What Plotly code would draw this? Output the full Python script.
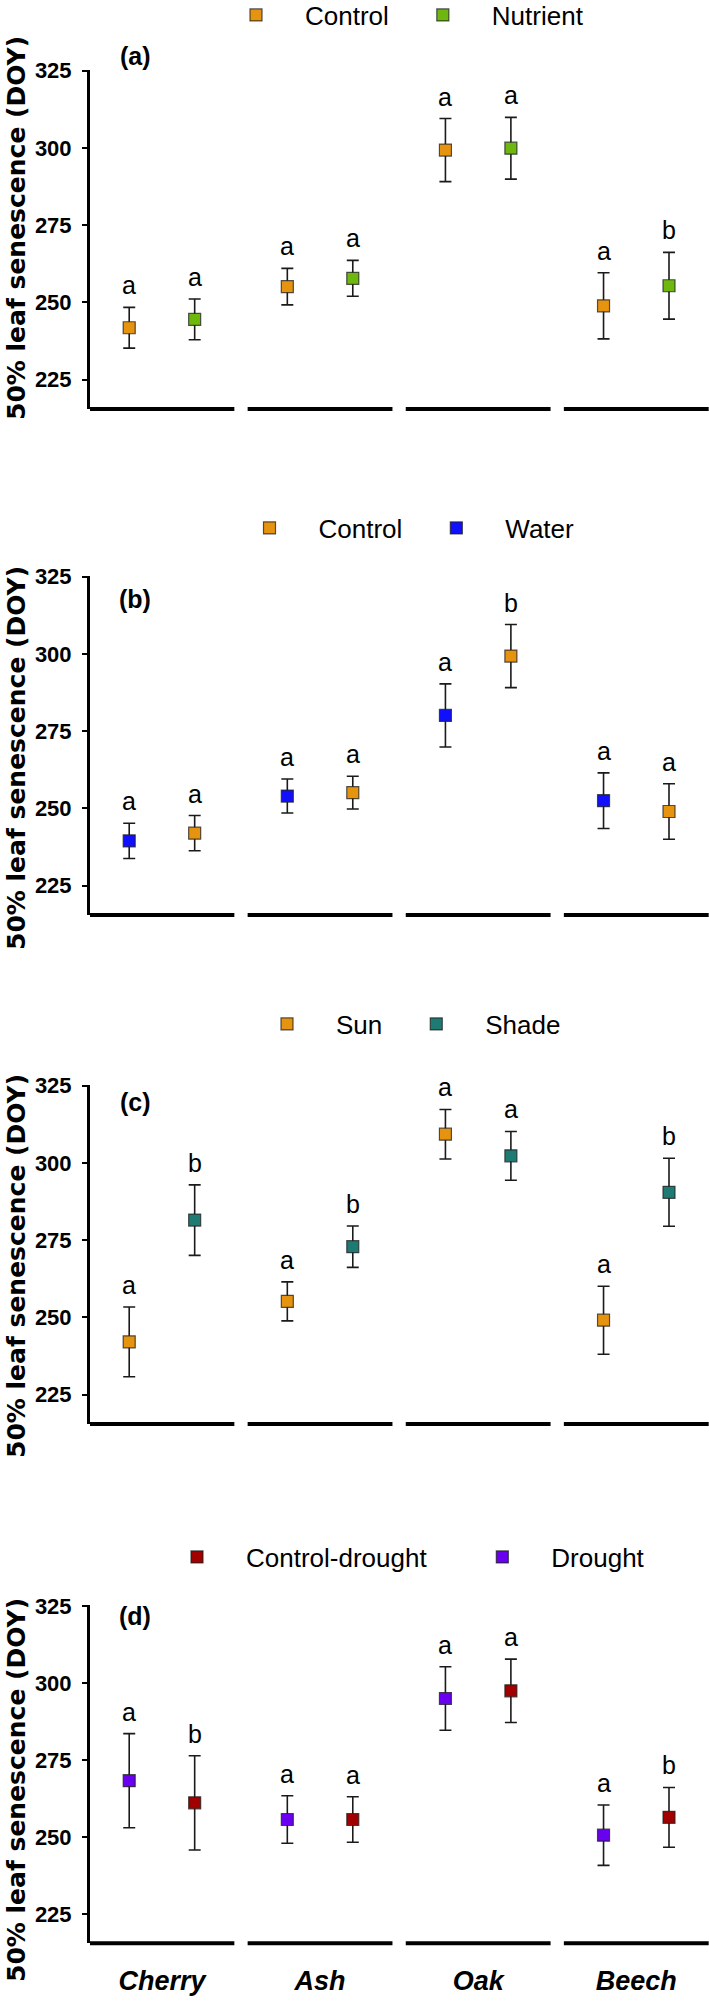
import plotly.graph_objects as go

# ---------------- data ----------------
species = ["Cherry", "Ash", "Oak", "Beech"]
y_ticks = [225, 250, 275, 300, 325]

# (a) Control vs Nutrient
a_control_mean = [241.8, 255.1, 299.3, 248.9]
a_control_err = [6.6, 5.9, 10.2, 10.7]
a_control_letters = ["a", "a", "a", "a"]
a_nutrient_mean = [244.5, 257.8, 299.9, 255.4]
a_nutrient_err = [6.6, 5.8, 10.0, 10.8]
a_nutrient_letters = ["a", "a", "a", "b"]

# (b) Control vs Water
b_water_mean = [239.5, 254.0, 280.1, 252.5]
b_water_err = [5.7, 5.5, 10.2, 9.0]
b_water_letters = ["a", "a", "a", "a"]
b_control_mean = [242.0, 255.1, 299.3, 249.0]
b_control_err = [5.7, 5.3, 10.2, 9.0]
b_control_letters = ["a", "a", "b", "a"]

# (c) Sun vs Shade
c_sun_mean = [242.1, 255.2, 309.3, 249.1]
c_sun_err = [11.3, 6.3, 8.0, 11.0]
c_sun_letters = ["a", "a", "a", "a"]
c_shade_mean = [281.5, 272.9, 302.3, 290.5]
c_shade_err = [11.4, 6.7, 7.9, 11.0]
c_shade_letters = ["b", "b", "a", "b"]

# (d) Control-drought vs Drought
d_drought_mean = [268.3, 255.7, 295.0, 250.6]
d_drought_err = [15.3, 7.7, 10.3, 9.8]
d_drought_letters = ["a", "a", "a", "a"]
d_cdrought_mean = [261.1, 255.7, 297.5, 256.4]
d_cdrought_err = [15.3, 7.4, 10.3, 9.7]
d_cdrought_letters = ["b", "a", "a", "b"]

panel_labels = ["(a)", "(b)", "(c)", "(d)"]
y_title = "50% leaf senescence (DOY)"

# ---------------- style / layout ----------------
ORANGE = "#E69310"
GREEN = "#6DB70F"
BLUE = "#1010FF"
TEAL = "#1E7B74"
DARKRED = "#A00000"
PURPLE = "#6A00F0"

FONT = "Liberation Sans, Arial, sans-serif"
W, H = 709, 2004
ML = 90
DODGE = 0.207
NB = "\u00a0"

panels = [
    dict(series=[("Control", a_control_mean, a_control_err, a_control_letters, ORANGE, -1, 1),
                 ("Nutrient", a_nutrient_mean, a_nutrient_err, a_nutrient_letters, GREEN, 1, 2)],
         domain=[0.7959, 0.9652], legend_y=15, legend_x=398, label_y=56, title_y=228),
    dict(series=[("Water", b_water_mean, b_water_err, b_water_letters, BLUE, -1, 2),
                 ("Control", b_control_mean, b_control_err, b_control_letters, ORANGE, 1, 1)],
         domain=[0.5434, 0.7127], legend_y=528, legend_x=400, label_y=599, title_y=758),
    dict(series=[("Sun", c_sun_mean, c_sun_err, c_sun_letters, ORANGE, -1, 1),
                 ("Shade", c_shade_mean, c_shade_err, c_shade_letters, TEAL, 1, 2)],
         domain=[0.2894, 0.4587], legend_y=1024, legend_x=402, label_y=1102, title_y=1266),
    dict(series=[("Drought", d_drought_mean, d_drought_err, d_drought_letters, PURPLE, -1, 2),
                 ("Control-drought", d_cdrought_mean, d_cdrought_err, d_cdrought_letters, DARKRED, 1, 1)],
         domain=[0.0303, 0.1990], legend_y=1557, legend_x=399, label_y=1616, title_y=1790),
]

fig = go.Figure()
annotations = []
shapes = []
layout_axes = {}

for k, p in enumerate(panels, start=1):
    sfx = "" if k == 1 else str(k)
    xname, yname = "x" + sfx, "y" + sfx
    legname = "legend" if k == 1 else "legend" + str(k)
    for name, mean, err, letters, color, side, rank in p["series"]:
        xs = [i + side * DODGE for i in range(len(species))]
        label = name + NB * 3 if (rank == 1 and len(name) > 10) else name
        fig.add_trace(go.Scatter(
            x=xs, y=mean, mode="markers", name=label,
            xaxis=xname, yaxis=yname, legend=legname, legendrank=rank,
            marker=dict(symbol="square", size=12, color=color,
                        line=dict(color="rgba(30,30,30,0.75)", width=1.2)),
            error_y=dict(type="data", array=err, visible=True,
                         color="#1a1a1a", thickness=1.6, width=6),
            showlegend=True,
        ))
        for xi, m, e, lt in zip(xs, mean, err, letters):
            annotations.append(dict(
                x=xi, y=m + e, xref=xname, yref=yname, text=lt, showarrow=False,
                yanchor="bottom", yshift=6,
                font=dict(family=FONT, size=25, color="black")))
    # broken x-axis segments, one per species
    for i in range(len(species)):
        shapes.append(dict(type="line", xref=xname, yref=yname + " domain",
                           x0=i - 0.458, x1=i + 0.458, y0=0, y1=0,
                           line=dict(color="black", width=4)))
    layout_axes["xaxis" + sfx] = dict(
        domain=[0, 1], range=[-0.455, 3.46], anchor=yname,
        showline=False, showgrid=False, zeroline=False,
        tickvals=list(range(len(species))),
        ticktext=["<b><i>%s</i></b>" % s for s in species],
        showticklabels=(k == 4), ticks="",
        ticklabelstandoff=19,
        tickfont=dict(family=FONT, size=27, color="black"),
    )
    layout_axes["yaxis" + sfx] = dict(
        domain=p["domain"], range=[215.5, 325.3], anchor=xname,
        showline=True, linewidth=3, linecolor="black",
        ticks="outside", ticklen=5, tickwidth=2, tickcolor="black",
        tickvals=y_ticks, showgrid=False, zeroline=False,
        ticklabelstandoff=6,
        tickfont=dict(family=FONT, size=22, color="black", weight="bold"),
    )
    layout_axes[legname] = dict(
        orientation="h", x=(p["legend_x"] - ML) / (W - ML), xanchor="center",
        y=1 - p["legend_y"] / H, yanchor="middle", itemwidth=88,
        font=dict(family=FONT, size=26, color="black"),
        bgcolor="rgba(0,0,0,0)", traceorder="normal",
    )
    annotations.append(dict(
        x=(135 - ML) / (W - ML), y=1 - p["label_y"] / H, xref="paper", yref="paper",
        text="<b>%s</b>" % panel_labels[k - 1], showarrow=False,
        xanchor="center", yanchor="middle",
        font=dict(family=FONT, size=25, color="black")))
    annotations.append(dict(
        x=(16 - ML) / (W - ML), y=1 - p["title_y"] / H, xref="paper", yref="paper",
        text="<b>%s</b>" % y_title, showarrow=False, textangle=-90,
        xanchor="center", yanchor="middle",
        font=dict(family="DejaVu Sans, sans-serif", size=25, color="black")))

fig.update_layout(
    width=W, height=H,
    margin=dict(l=ML, r=0, t=0, b=0, autoexpand=False),
    paper_bgcolor="white", plot_bgcolor="white",
    annotations=annotations, shapes=shapes,
    **layout_axes,
)

fig.write_html(
    "out.html",
    config={"displayModeBar": False},
    post_script="document.body.style.margin='0';document.body.style.overflow='hidden';",
)
